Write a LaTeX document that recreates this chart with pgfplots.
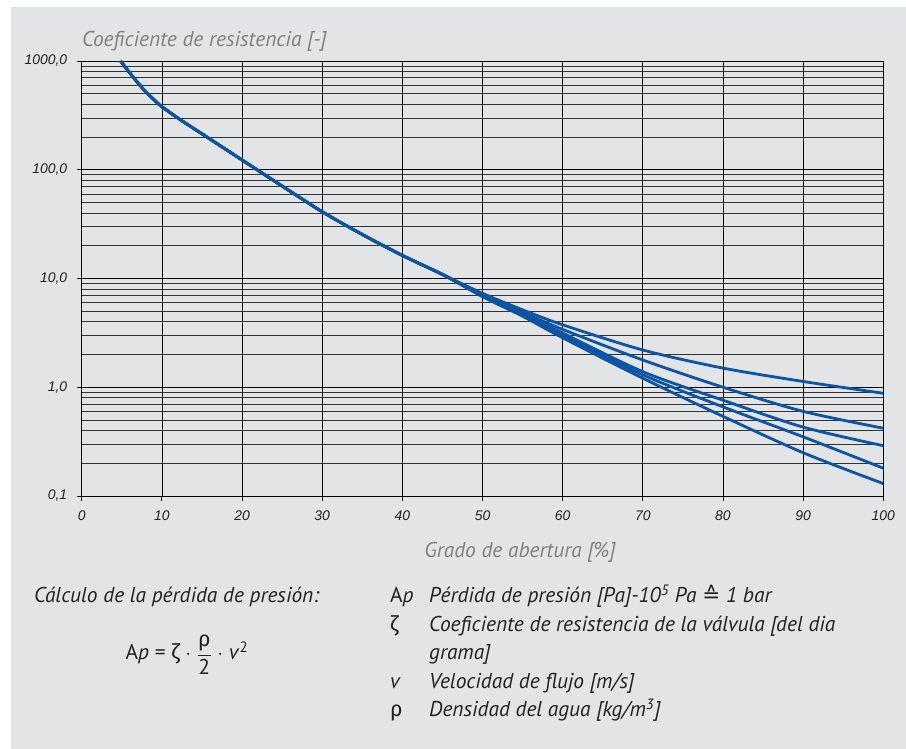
\documentclass[border=0pt]{standalone}
\usepackage{fontspec}
\setmainfont{PT Sans}
\newfontfamily\arialfont{Liberation Sans}
\newfontfamily\greek{Fira Sans}
\newfontfamily\dejavu{DejaVu Sans}
\usepackage{pgfplots}
\pgfplotsset{compat=1.18}
\definecolor{bg}{HTML}{E3E4E6}
\definecolor{curve}{HTML}{0B55A3}
\definecolor{titlegray}{HTML}{808080}
\definecolor{txt}{HTML}{222222}
\newcommand\fs{\fontsize{21.5}{21.5}\selectfont}
\pgfplotsset{valve/.style={color=curve, line width=2.8bp, smooth, no markers}}
\begin{document}
\begin{tikzpicture}[x=1bp,y=1bp]
\path[use as bounding box] (0,0) rectangle (906,749);
\fill[bg] (11,0) rectangle (906,742);
\begin{axis}[
  at={(81.7bp,253bp)}, anchor=south west, scale only axis,
  width=801.6bp, height=435bp,
  ymode=log, xmin=0, xmax=100, ymin=0.1, ymax=1000,
  xtick={0,10,20,30,40,50,60,70,80,90,100},
  xticklabels={0,10,20,30,40,50,60,70,80,90,100},
  ytick={0.1,1,10,100,1000},
  yticklabels={{0,1},{1,0},{10,0},{100,0},{1000,0}},
  minor ytick={0.2,0.3,0.4,0.5,0.6,0.7,0.8,0.9,2,3,4,5,6,7,8,9,20,30,40,50,60,70,80,90,200,300,400,500,600,700,800,900},
  grid=both,
  major grid style={black, line width=0.7pt},
  minor grid style={black!80, line width=0.7pt},
  tick align=outside, xtick pos=bottom, ytick pos=left,
  major tick length=5bp, minor tick length=0pt,
  tick style={black, line width=0.8pt},
  axis line style={black, line width=0.9pt},
  ticklabel style={font=\arialfont\itshape\fontsize{14}{14}\selectfont, text=txt},
  yticklabel style={xshift=-6bp},
  xticklabel style={yshift=-6bp},
  /pgf/number format/assume math mode=true,
]
\addplot[valve] coordinates {
 (4.85,1000) (6,776) (7,631) (8,519) (9,442) (10,380) (12.5,282) (15,214) (20,123) (25,70.8) (30,41.1) (35,25.4) (40,16.3) (45,10.9)
 (50,7.3) (55,5.15) (60,3.75) (70,2.2) (80,1.5) (90,1.13) (100,0.88)};
\addplot[valve] coordinates {
 (4.85,1000) (6,776) (7,631) (8,519) (9,442) (10,380) (12.5,282) (15,214) (20,123) (25,70.8) (30,41.1) (35,25.4) (40,16.3) (45,10.9)
 (50,7.1) (55,4.9) (60,3.4) (70,1.78) (80,1.0) (90,0.60) (100,0.42)};
\addplot[valve] coordinates {
 (4.85,1000) (6,776) (7,631) (8,519) (9,442) (10,380) (12.5,282) (15,214) (20,123) (25,70.8) (30,41.1) (35,25.4) (40,16.3) (45,10.9)
 (50,7.0) (55,4.7) (60,3.15) (70,1.39) (80,0.76) (90,0.43) (100,0.29)};
\addplot[valve] coordinates {
 (4.85,1000) (6,776) (7,631) (8,519) (9,442) (10,380) (12.5,282) (15,214) (20,123) (25,70.8) (30,41.1) (35,25.4) (40,16.3) (45,10.9)
 (50,6.9) (55,4.6) (60,3.0) (70,1.30) (80,0.66) (90,0.35) (100,0.18)};
\addplot[valve] coordinates {
 (4.85,1000) (6,776) (7,631) (8,519) (9,442) (10,380) (12.5,282) (15,214) (20,123) (25,70.8) (30,41.1) (35,25.4) (40,16.3) (45,10.9)
 (50,6.8) (55,4.5) (60,2.85) (70,1.21) (80,0.54) (90,0.25) (100,0.13)};
\end{axis}
% titles
\node[anchor=base west, text=titlegray, font=\itshape\fs, inner sep=0] at (82,702.3) {Coeficiente de resistencia [-]};
\node[anchor=base, text=titlegray, font=\itshape\fs, inner sep=0] at (520,191) {Grado de abertura [\%]};
% bottom left
\node[anchor=base west, text=txt, font=\itshape\fs, inner sep=0] at (34,146) {Cálculo de la pérdida de presión:};
\node[anchor=base, text=txt, font=\fs, inner sep=0] at (187,89) {A\textit{p} = {\greek ζ} $\cdot$ $\displaystyle\frac{\hbox{\greek ρ}}{\hbox{2}}$ $\cdot$ \textit{v}\textsuperscript{2}};
% bottom right
\begin{scope}[every node/.style={anchor=base west, text=txt, inner sep=0, font=\fs}]
\node at (390,146) {A\textit{p}};
\node at (390,117.5) {\greek ζ};
\node at (390,60.5) {\textit{v}};
\node at (390,32) {\greek ρ};
\node[font=\itshape\fs] at (429,146) {Pérdida de presión [Pa]-10\textsuperscript{5} Pa {\dejavu\upshape ≙} 1 bar};
\node[font=\itshape\fs] at (429,117.5) {Coeficiente de resistencia de la válvula [del dia};
\node[font=\itshape\fs] at (429,89) {grama]};
\node[font=\itshape\fs] at (429,60.5) {Velocidad de flujo [m/s]};
\node[font=\itshape\fs] at (429,32) {Densidad del agua [kg/m\textsuperscript{3}]};
\end{scope}
\end{tikzpicture}
\end{document}
